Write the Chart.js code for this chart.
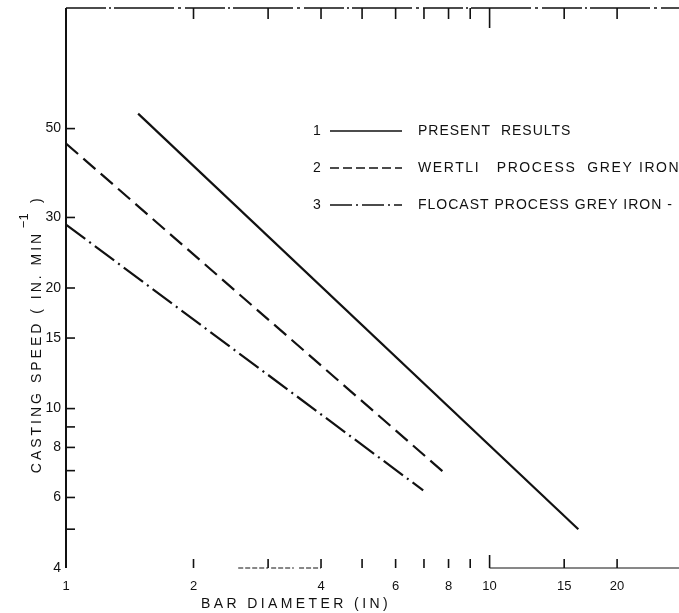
<!DOCTYPE html>
<html><head><meta charset="utf-8">
<script src="https://cdn.jsdelivr.net/npm/chart.js@4/dist/chart.umd.min.js"></script>
<style>html,body{margin:0;padding:0;background:#fff;} #wrap{width:679px;height:613px;position:relative}</style>
</head><body><div id="wrap"><canvas id="c" width="679" height="613"></canvas></div>
<script>
// ---- data ----
const xTickValues = [1,2,3,4,5,6,7,8,9,10,15,20];
const xTickLabels = ['1','2','','4','','6','','8','','10','15','20'];
const yTickValues = [4,5,6,7,8,9,10,15,20,30,50];
const yTickLabels = ['4','','6','','8','','10','15','20','30','50'];
const seriesNumbers = ['1','2','3'];
const seriesNames = ['PRESENT  RESULTS','WERTLI   PROCESS  GREY IRON','FLOCAST PROCESS GREY IRON -'];
const presentDiameter = [1.48, 16.2];
const presentSpeed = [54.5, 5.0];
const wertliDiameter = [1.0, 7.8];
const wertliSpeed = [45.9, 6.93];
const flocastDiameter = [1.0, 6.97];
const flocastSpeed = [28.8, 6.25];
const xTitle = 'BAR DIAMETER (IN)';
const yTitle = 'CASTING SPEED ( IN. MIN';

const INK = '#111';
const FONT = '"Liberation Sans", Arial, sans-serif';
const dashes = [[], [16,7], [24,5,2,5]];
const pts = (xs, ys) => xs.map((x,i)=>({x:x, y:ys[i]}));

const decor = {
  id:'decor',
  afterDatasetsDraw(chart){
    const ctx = chart.ctx, xs = chart.scales.x, ys = chart.scales.y, a = chart.chartArea;
    ctx.save();
    ctx.strokeStyle = INK; ctx.fillStyle = INK; ctx.lineCap='butt';
    // left axis
    ctx.lineWidth = 2;
    ctx.beginPath(); ctx.moveTo(a.left, a.top); ctx.lineTo(a.left, a.bottom); ctx.stroke();
    // top border (broken)
    ctx.lineWidth = 1.3;
    ctx.setLineDash([40,3,2,3,60,4,3,4]);
    ctx.beginPath(); ctx.moveTo(a.left, a.top); ctx.lineTo(a.right, a.top); ctx.stroke();
    ctx.setLineDash([]);
    // bottom axis pieces
    ctx.lineWidth = 1;
    const segs = [[2.55,3.0],[3.05,3.45],[3.55,4.0],[10,xs.max]];
    ctx.setLineDash([5,2]);
    segs.forEach((s,i)=>{
      if(i===3) ctx.setLineDash([]);
      ctx.beginPath(); ctx.moveTo(xs.getPixelForValue(s[0]), a.bottom); ctx.lineTo(xs.getPixelForValue(s[1]), a.bottom); ctx.stroke();
    });
    ctx.setLineDash([]);
    // y ticks (inside)
    ctx.lineWidth = 1.6;
    yTickValues.forEach(v=>{
      const py = ys.getPixelForValue(v);
      if (v===4) return;
      ctx.beginPath(); ctx.moveTo(a.left, py); ctx.lineTo(a.left+9, py); ctx.stroke();
    });
    // x ticks bottom & top (inside)
    xTickValues.forEach(v=>{
      if (v===1) return;
      const px = xs.getPixelForValue(v);
      const lb = v===10 ? 13 : 9, lt = v===10 ? 20 : 11;
      ctx.beginPath(); ctx.moveTo(px, a.bottom); ctx.lineTo(px, a.bottom-lb); ctx.stroke();
      ctx.beginPath(); ctx.moveTo(px, a.top); ctx.lineTo(px, a.top+lt); ctx.stroke();
    });
    // axis titles
    ctx.font = '14px ' + FONT;
    ctx.letterSpacing = '3.4px';
    ctx.textAlign = 'center'; ctx.textBaseline = 'middle';
    ctx.fillText(xTitle, 296, 604);
    ctx.save();
    ctx.translate(37, 344); ctx.rotate(-Math.PI/2);
    ctx.letterSpacing = '3px';
    ctx.fillText(yTitle, -8, 0);
    const w = ctx.measureText(yTitle).width;
    ctx.font = '13px ' + FONT;
    ctx.letterSpacing = '0px';
    ctx.fillText('\u22121', w/2 + 2, -13);
    ctx.font = '14px ' + FONT;
    ctx.fillText(')', w/2 + 22, 0);
    ctx.restore();
    // legend
    const rows = [131, 168, 205];
    const spacing = ['1px','1.6px','1px'];
    ctx.textAlign = 'left';
    rows.forEach((ry,i)=>{
      ctx.font = '14px ' + FONT;
      ctx.letterSpacing = '0px';
      ctx.fillText(seriesNumbers[i], 313, ry);
      ctx.lineWidth = 1.6;
      ctx.setLineDash(i===0?[]:(i===1?[9,4]:[22,4,2,4]));
      ctx.beginPath(); ctx.moveTo(330, ry); ctx.lineTo(402, ry); ctx.stroke();
      ctx.setLineDash([]);
      ctx.letterSpacing = spacing[i];
      ctx.fillText(seriesNames[i], 418, ry);
    });
    ctx.restore();
  }
};

new Chart(document.getElementById('c'), {
  type:'line',
  data:{ datasets:[
    {label:seriesNames[0], data:pts(presentDiameter,presentSpeed), borderDash:dashes[0]},
    {label:seriesNames[1], data:pts(wertliDiameter,wertliSpeed), borderDash:dashes[1]},
    {label:seriesNames[2], data:pts(flocastDiameter,flocastSpeed), borderDash:dashes[2]}
  ].map(d=>Object.assign(d,{borderColor:INK, borderWidth:2.2, pointRadius:0, fill:false, tension:0}))},
  options:{
    responsive:false, animation:false, devicePixelRatio:1,
    layout:{padding:{top:8,right:0,left:0,bottom:0}},
    plugins:{legend:{display:false}, tooltip:{enabled:false}},
    scales:{
      x:{type:'logarithmic', min:1, max:28,
        afterBuildTicks:s=>{s.ticks = xTickValues.map(v=>({value:v}));},
        afterFit:s=>{s.height = 45; s.paddingRight = 0;},
        grid:{display:false, drawTicks:false}, border:{display:false},
        ticks:{autoSkip:false, maxRotation:0, padding:11, color:INK,
          font:{family:FONT, size:13},
          callback:(v)=>{const i = xTickValues.indexOf(v); return i<0?'':xTickLabels[i];}}},
      y:{type:'logarithmic', min:4, max:100,
        afterBuildTicks:s=>{s.ticks = yTickValues.map(v=>({value:v}));},
        afterFit:s=>{s.width = 66; s.paddingTop = 0;},
        grid:{display:false, drawTicks:false}, border:{display:false},
        ticks:{autoSkip:false, padding:5, color:INK,
          font:{family:FONT, size:14},
          callback:(v)=>{const i = yTickValues.indexOf(v); return i<0?'':yTickLabels[i];}}}
    }
  },
  plugins:[decor]
});
</script></body></html>
